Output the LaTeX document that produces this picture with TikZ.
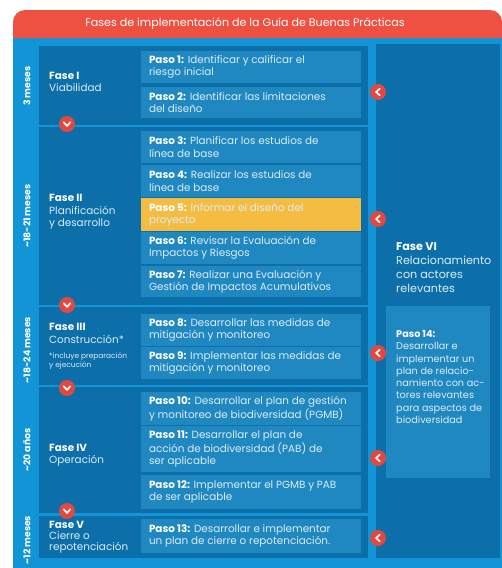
\documentclass[tikz,border=0pt]{standalone}
\usepackage{fontspec}
\setmainfont{Poppins}
\usetikzlibrary{fit}
\definecolor{hdr}{HTML}{EE5041}
\definecolor{bgblue}{HTML}{1195D6}
\definecolor{panel}{HTML}{0C6FAA}
\definecolor{stepc}{HTML}{2088C1}
\definecolor{yel}{HTML}{F4BD41}
\definecolor{txtl}{HTML}{DCECF7}
\definecolor{chev}{HTML}{E2483F}
\newcommand{\pasob}[1]{\textcolor{white}{\bfseries #1}}
\tikzset{
  box/.style={inner sep=0pt, draw=none},
  steptxt/.style={anchor=west, align=left, inner sep=0pt, text=txtl, font=\fontsize{10.4}{12.2}\selectfont},
  fasetxt/.style={anchor=west, align=left, inner sep=0pt, text=txtl, font=\fontsize{10.4}{12.5}\selectfont},
  vlabel/.style={rotate=90, text=white, inner sep=0pt, font=\bfseries\fontsize{9.3}{10}\selectfont},
  chevl/.style={circle, fill=chev, minimum size=16pt, inner sep=0pt,
    path picture={\draw[white, line width=1.7pt, line cap=round, line join=round]
      ([shift={(1.8,3.3)}]path picture bounding box.center) --
      ([shift={(-1.9,0)}]path picture bounding box.center) --
      ([shift={(1.8,-3.3)}]path picture bounding box.center);}},
  chevd/.style={circle, fill=chev, minimum size=16pt, inner sep=0pt,
    path picture={\draw[white, line width=1.7pt, line cap=round, line join=round]
      ([shift={(-3.3,-1.8)}]path picture bounding box.center) --
      ([shift={(0,1.9)}]path picture bounding box.center) --
      ([shift={(3.3,-1.8)}]path picture bounding box.center);}}
}
\newcommand{\mkstep}[5][stepc]{%
  \node[box, fill=#1, fit={(141,#3)(361,#4)}] (#2) {};
  \node[steptxt] (#2t) at ([xshift=8pt]#2.west) {#5};
}
\begin{document}
\begin{tikzpicture}[x=1pt,y=-1pt]
\useasboundingbox (0,0) rectangle (502,568);
% background
\node[box, fill=bgblue, fit={(13,38)(502,568)}] (bg) {};
\fill[hdr] (13,38) [rounded corners=12pt] -- (13,10) -- (502,10) [sharp corners] -- (502,38) -- cycle;
\node[text=white, inner sep=0pt, font=\fontsize{11.1}{13}\selectfont] (title) at (245,24) {Fases de implementación de la Guía de Buenas Prácticas};
% phase panels
\node[box, fill=panel, fit={(39,46)(368,125)}] (ph1) {};
\node[box, fill=panel, fit={(39,127)(368,305)}] (ph2) {};
\node[box, fill=panel, fit={(39,307)(368,385)}] (ph3) {};
\node[box, fill=panel, fit={(39,387)(368,513)}] (ph4) {};
\node[box, fill=panel, fit={(39,516)(368,558)}] (ph5) {};
\node[box, fill=panel, fit={(376,44)(500,558)}] (ph6) {};
% vertical labels
\node[vlabel] (v1) at (27,86) {3 meses};
\node[vlabel] (v2) at (27,216) {\textasciitilde18-21 meses};
\node[vlabel] (v3) at (27,350) {\textasciitilde18-24 meses};
\node[vlabel] (v4) at (27,450) {\textasciitilde20 años};
\node[vlabel] (v5) at (27,540) {\textasciitilde12 meses};
% phase labels
\node[fasetxt] (f1) at (49,82) {\pasob{Fase I}\\Viabilidad};
\node[fasetxt] (f2) at (49,212) {\pasob{Fase II}\\Planificación\\y desarrollo};
\node[fasetxt] (f3) at (49,333.5) {\pasob{Fase III}\\Construcción*};
\node[fasetxt, font=\fontsize{7.4}{9}\selectfont] (f3n) at (49,361.5) {*incluye preparación\\y ejecución};
\node[fasetxt] (f4) at (49,455) {\pasob{Fase IV}\\Operación};
\node[fasetxt, font=\fontsize{10.4}{11}\selectfont] (f5) at (49,537) {\pasob{Fase V}\\Cierre o\\repotenciación};
% steps
\mkstep{p1}{51}{83}{\pasob{Paso 1:} Identificar y calificar el\\riesgo inicial}
\mkstep{p2}{87}{118}{\pasob{Paso 2:} Identificar las limitaciones\\del diseño}
\mkstep{p3}{131}{163}{\pasob{Paso 3:} Planificar los estudios de\\línea de base}
\mkstep{p4}{165}{197}{\pasob{Paso 4:} Realizar los estudios de\\línea de base}
\mkstep[yel]{p5}{198}{231}{\pasob{Paso 5:} Informar el diseño del\\proyecto}
\mkstep{p6}{232}{264}{\pasob{Paso 6:} Revisar la Evaluación de\\Impactos y Riesgos}
\mkstep{p7}{266}{297}{\pasob{Paso 7:} Realizar una Evaluación y\\Gestión de Impactos Acumulativos}
\mkstep{p8}{314}{346}{\pasob{Paso 8:} Desarrollar las medidas de\\mitigación y monitoreo}
\mkstep{p9}{347}{379}{\pasob{Paso 9:} Implementar las medidas de\\mitigación y monitoreo}
\mkstep{p10}{392}{425}{\pasob{Paso 10:} Desarrollar el plan de gestión\\y monitoreo de biodiversidad (PGMB)}
\mkstep{p11}{426}{472}{\pasob{Paso 11:} Desarrollar el plan de\\acción de biodiversidad (PAB) de\\ser aplicable}
\mkstep{p12}{475}{509}{\pasob{Paso 12:} Implementar el PGMB y PAB\\de ser aplicable}
\mkstep{p13}{519}{553}{\pasob{Paso 13:} Desarrollar e implementar\\un plan de cierre o repotenciación.}
% phase VI
\node[fasetxt, font=\fontsize{11.2}{14}\selectfont] (f6) at (396,268) {\pasob{Fase VI}\\Relacionamiento\\con actores\\relevantes};
\node[box, fill=stepc, fit={(386,306)(490,478)}] (p14) {};
\node[fasetxt, font=\fontsize{9.7}{12.3}\selectfont] (p14t) at (396,377) {\pasob{Paso 14:}\\Desarrollar e\\implementar un\\plan de relacio-\\namiento con ac-\\tores relevantes\\para aspectos de\\biodiversidad};
% chevrons
\node[chevd] (d1) at (67,124) {};
\node[chevd] (d2) at (67,305) {};
\node[chevd] (d3) at (67,388) {};
\node[chevd] (d4) at (67,511) {};
\node[chevl] (l1) at (378,92) {};
\node[chevl] (l2) at (378,219) {};
\node[chevl] (l3) at (378,353) {};
\node[chevl] (l4) at (378,458) {};
\node[chevl] (l5) at (378,538) {};
\end{tikzpicture}
\end{document}
